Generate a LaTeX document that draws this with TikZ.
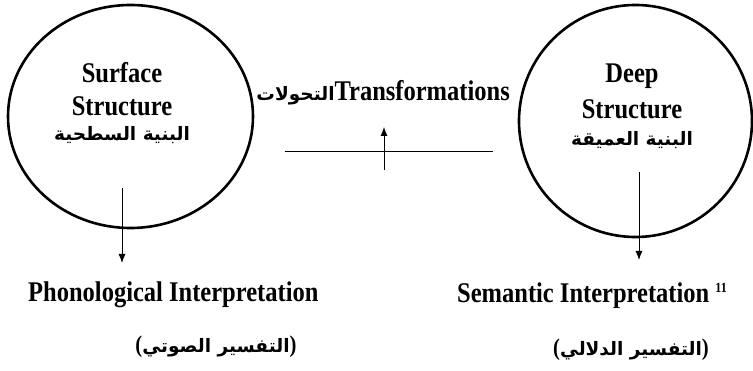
\documentclass[tikz,border=0pt]{standalone}
\usepackage{fontspec}
\usetikzlibrary{arrows.meta,shapes.geometric}
\setmainfont{Liberation Serif}[FakeStretch=0.86]
\newfontfamily\arabicfont[Script=Arabic]{DejaVu Sans}
\TeXXeTstate=1
\newcommand{\arfont}{\fontsize{18.5}{21}\selectfont\arabicfont\bfseries}
\newcommand{\parfont}{\fontsize{24}{26}\selectfont\rmfamily\bfseries}
\tikzset{
  ring/.style={draw, ellipse, line width=2.6pt, inner sep=0pt},
  lbl/.style={font=\fontsize{28.5}{32}\selectfont\bfseries, inner sep=0pt},
  albl/.style={font=\arfont, inner sep=0pt},
  arr/.style={line width=0.9pt, -{Latex[length=9pt,width=7pt]}},
  thin/.style={line width=0.9pt}
}
\begin{document}
\begin{tikzpicture}[x=1pt,y=-1pt]
\useasboundingbox (0,0) rectangle (753,371);
% circles
\node[ring, minimum width=245pt, minimum height=223pt] (surf) at (130.5,116.5) {};
\node[ring, minimum width=233pt, minimum height=232pt] (deep) at (635.5,121) {};
% texts inside circles
\node[lbl] (surf1) at (122,73) {Surface};
\node[lbl] (surf2) at (122,106) {Structure};
\node[albl] (surf3) at (122,135) {\beginR البنية السطحية\endR};
\node[lbl] (deep1) at (632,76) {Deep};
\node[lbl] (deep2) at (632,109) {Structure};
\node[albl] (deep3) at (632,140) {\beginR البنية العميقة\endR};
% transformations
\node[lbl, anchor=base east] (trans) at (510,101) {{\arfont\beginR التحولات\endR}Transformations};
\coordinate (hl) at (285,151);
\coordinate (hr) at (493,151);
\draw[thin] (hl) -- (hr);
\coordinate (ta) at (384,170);
\coordinate (tb) at (384,127);
\draw[arr] (ta) -- (tb);
% bottom labels
\node[lbl, anchor=base west] (phon) at (28,302) {Phonological Interpretation};
\node[lbl, anchor=base west] (sem) at (457,303) {Semantic Interpretation \raisebox{10pt}{\fontsize{14}{16}\selectfont 11}};
\node[albl] (phonA) at (216,347) {{\parfont(}\beginR التفسير الصوتي\endR{\parfont)}};
\node[albl] (semA) at (631,350) {{\parfont(}\beginR التفسير الدلالي\endR{\parfont)}};
% arrows down
\coordinate (la) at (122,188);
\coordinate (lb) at (122,263);
\draw[arr] (la) -- (lb);
\coordinate (ra) at (639,172);
\coordinate (rb) at (639,260);
\draw[arr] (ra) -- (rb);
\end{tikzpicture}
\end{document}
